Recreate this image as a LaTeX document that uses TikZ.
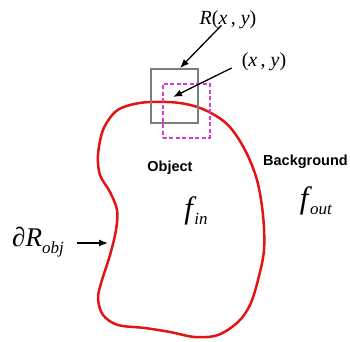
\documentclass[tikz,border=0pt]{standalone}
\usepackage{fontspec}
\setmainfont{Liberation Serif}
\setsansfont{Liberation Sans}
\usetikzlibrary{arrows.meta}
\definecolor{boxgray}{RGB}{125,125,125}
\definecolor{dashmag}{RGB}{215,60,215}
\definecolor{curvered}{RGB}{228,20,20}
\tikzset{
  ptr/.style={draw=black, line width=1.3pt, -{Latex[length=9pt,width=7pt]}},
  lbl/.style={inner sep=0pt, font=\fontsize{20}{22}\selectfont},
  sans/.style={inner sep=0pt, font=\sffamily\bfseries\fontsize{14.5}{15}\selectfont},
  fsym/.style={inner sep=0pt, font=\fontsize{31}{32}\selectfont}
}
\begin{document}
\begin{tikzpicture}[x=1pt,y=-1pt]
\useasboundingbox (0,0) rectangle (350,341);
% red object boundary
\draw[curvered, line width=2.5pt] plot[smooth cycle, tension=0.55] coordinates {
 (150,102) (180,103) (205,110) (228,125) (245,150) (257,180) (263,215) (264,250)
 (258,280) (250,305) (238,322) (218,335) (195,337) (170,332) (145,328) (118,325)
 (103,315) (98,298) (102,280) (110,255) (116,230) (117,210) (110,192) (100,175)
 (98,155) (103,130) (115,112) (130,105)};
% boxes
\node[draw=boxgray, line width=1.8pt, minimum width=47pt, minimum height=54pt, inner sep=0pt, anchor=north west] (box) at (150,68) {};
\node[draw=dashmag, line width=1.5pt, dash pattern=on 4pt off 2.5pt, minimum width=47pt, minimum height=54pt, inner sep=0pt, anchor=north west] (dbox) at (162,83) {};
\coordinate (boxtop) at (180,68);
\coordinate (ctr) at (173,97);
% labels
\node[lbl] (R) at (228,20) {\textit{R}(\textit{x}\,, \textit{y})};
\node[lbl] (xy) at (264,62) {(\textit{x}\,, \textit{y})};
\draw[ptr] (R.south west) ++(22,-4) coordinate (rs) (rs) -- (boxtop);
\draw[ptr] (xy.west) ++(-10,6) coordinate (xs) (xs) -- (ctr);
\node[sans] (obj) at (170,168) {Object};
\node[sans, anchor=west] (bg) at (263,162) {Background};
\node[fsym] (fin) at (196,211) {\textit{f}\raisebox{-6pt}{\fontsize{17}{18}\selectfont\kern-2pt\textit{in}}};
\node[fsym] (fout) at (316,201) {\textit{f}\raisebox{-6pt}{\fontsize{17}{18}\selectfont\kern-2pt\textit{out}}};
\node[lbl, font=\fontsize{27}{28}\selectfont] (dR) at (38,242) {∂\textit{R}\raisebox{-7pt}{\fontsize{17}{18}\selectfont\textit{obj}}};
\coordinate (bnd) at (108,243);
\draw[ptr] (77,243) coordinate (ds) -- (bnd);
\end{tikzpicture}
\end{document}
